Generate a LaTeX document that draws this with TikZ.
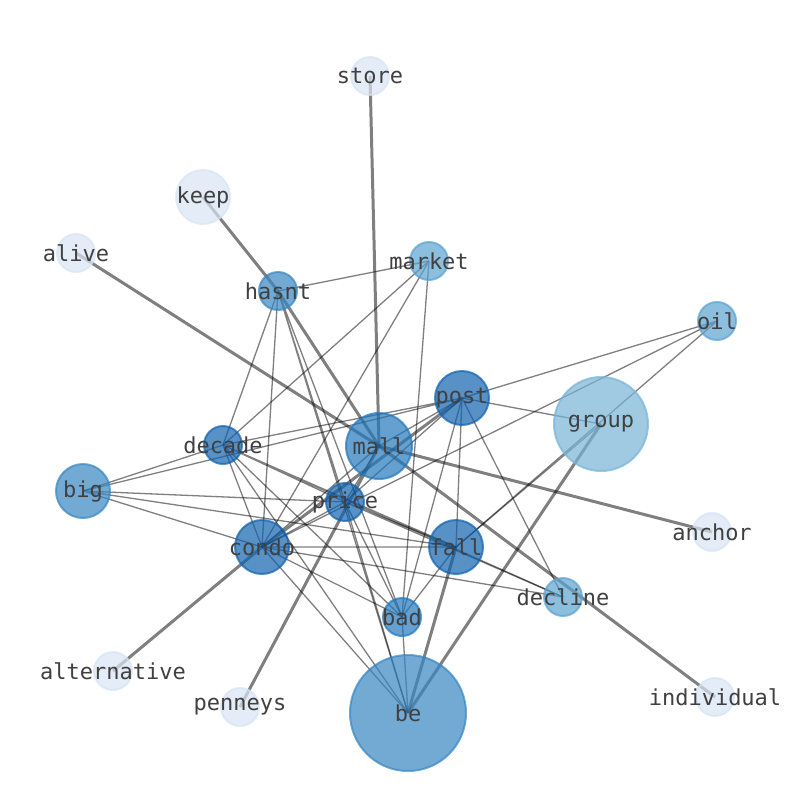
\documentclass[tikz,border=0pt]{standalone}
\usepackage{fontspec}
\setmonofont{DejaVu Sans Mono}
\usepackage{xcolor}
\usepackage{tikz}
\usetikzlibrary{backgrounds}

\definecolor{lvlA}{RGB}{215,228,244}
\definecolor{lvlB}{RGB}{119,179,214}
\definecolor{lvlC}{RGB}{91,162,208}
\definecolor{lvlD}{RGB}{55,134,194}
\definecolor{lvlE}{RGB}{34,119,188}
\definecolor{lvlF}{RGB}{16,98,174}

\begin{document}
\begin{tikzpicture}[x=1pt,y=-1pt,
    word/.style={circle, inner sep=0pt, line width=2pt, minimum size=#1,
      fill opacity=.7, draw opacity=.7, text opacity=1},
    tag/.style={font=\ttfamily\fontsize{22}{26}\selectfont, text=black!75, inner sep=0pt},
    heavy/.style={line width=3pt, draw=black, draw opacity=.5},
    light/.style={line width=1.3pt, draw=black, draw opacity=.5}]
			\useasboundingbox (0,0) rectangle (794,790);
			% words
			\node[word=38pt, fill=lvlA, draw=lvlA, label={[tag]center:store}] (store) at (370,76) {};
			\node[word=54pt, fill=lvlA, draw=lvlA, label={[tag]center:keep}] (keep) at (203,197) {};
			\node[word=38pt, fill=lvlA, draw=lvlA, label={[tag]center:alive}] (alive) at (76,253) {};
			\node[word=38pt, fill=lvlC, draw=lvlC, label={[tag]center:market}] (market) at (429,261) {};
			\node[word=38pt, fill=lvlD, draw=lvlD, label={[tag]center:hasnt}] (hasnt) at (278,291) {};
			\node[word=38pt, fill=lvlC, draw=lvlC, label={[tag]center:oil}] (oil) at (717,321) {};
			\node[word=54pt, fill=lvlF, draw=lvlF, label={[tag]center:post}] (post) at (462,398) {};
			\node[word=94pt, fill=lvlB, draw=lvlB, label={[tag]center:group}] (group) at (601,424) {};
			\node[word=38pt, fill=lvlF, draw=lvlF, label={[tag]center:decade}] (decade) at (223,445) {};
			\node[word=66pt, fill=lvlE, draw=lvlE, label={[tag]center:mall}] (mall) at (379,446) {};
			\node[word=54pt, fill=lvlD, draw=lvlD, label={[tag]center:big}] (big) at (83,491) {};
			\node[word=38pt, fill=lvlF, draw=lvlF, label={[tag]center:price}] (price) at (345,502) {};
			\node[word=38pt, fill=lvlA, draw=lvlA, label={[tag]center:anchor}] (anchor) at (712,532) {};
			\node[word=54pt, fill=lvlF, draw=lvlF, label={[tag]center:condo}] (condo) at (262,547) {};
			\node[word=54pt, fill=lvlF, draw=lvlF, label={[tag]center:fall}] (fall) at (456,547) {};
			\node[word=38pt, fill=lvlC, draw=lvlC, label={[tag]center:decline}] (decline) at (563,597) {};
			\node[word=38pt, fill=lvlE, draw=lvlE, label={[tag]center:bad}] (bad) at (402,617) {};
			\node[word=38pt, fill=lvlA, draw=lvlA, label={[tag]center:alternative}] (alternative) at (113,671) {};
			\node[word=38pt, fill=lvlA, draw=lvlA, label={[tag]center:penneys}] (penneys) at (240,707) {};
			\node[word=38pt, fill=lvlA, draw=lvlA, label={[tag]center:individual}] (individual) at (715,697) {};
			\node[word=116pt, fill=lvlD, draw=lvlD, label={[tag]center:be}] (be) at (408,713) {};
			% links
			\begin{scope}[on background layer]
			\draw[heavy] (store.center) -- (mall.center);
			\draw[heavy] (keep.center) -- (hasnt.center);
			\draw[heavy] (hasnt.center) -- (mall.center);
			\draw[heavy] (alive.center) -- (mall.center);
			\draw[heavy] (mall.center) -- (anchor.center);
			\draw[heavy] (mall.center) -- (individual.center);
			\draw[heavy] (alternative.center) -- (condo.center);
			\draw[heavy] (condo.center) -- (post.center);
			\draw[heavy] (penneys.center) -- (mall.center);
			\draw[heavy] (be.center) -- (fall.center);
			\draw[heavy] (be.center) -- (group.center);
			\draw[light] (hasnt.center) -- (market.center) (hasnt.center) -- (decade.center) (hasnt.center) -- (condo.center)
			  (hasnt.center) -- (price.center) (hasnt.center) -- (bad.center) (hasnt.center) -- (be.center);
			\draw[light] (market.center) -- (decade.center) (market.center) -- (condo.center) (market.center) -- (bad.center);
			\draw[light] (oil.center) -- (post.center) (oil.center) -- (condo.center) (oil.center) -- (fall.center);
			\draw[light] (group.center) -- (post.center) (group.center) -- (fall.center);
			\draw[light] (post.center) -- (decade.center) (post.center) -- (big.center) (post.center) -- (price.center)
			  (post.center) -- (fall.center) (post.center) -- (bad.center) (post.center) -- (decline.center) (post.center) -- (mall.center);
			\draw[light] (decade.center) -- (big.center) (decade.center) -- (price.center) (decade.center) -- (fall.center)
			  (decade.center) -- (decline.center) (decade.center) -- (bad.center) (decade.center) -- (be.center) (decade.center) -- (condo.center);
			\draw[light] (big.center) -- (price.center) (big.center) -- (fall.center) (big.center) -- (condo.center);
			\draw[light] (condo.center) -- (fall.center) (condo.center) -- (decline.center) (condo.center) -- (bad.center)
			  (condo.center) -- (be.center) (condo.center) -- (price.center) (condo.center) -- (mall.center);
			\draw[light] (price.center) -- (mall.center) (price.center) -- (fall.center) (price.center) -- (decline.center)
			  (price.center) -- (bad.center) (price.center) -- (be.center);
			\draw[light] (fall.center) -- (bad.center) (bad.center) -- (be.center);
			\end{scope}
		\end{tikzpicture}
\end{document}
